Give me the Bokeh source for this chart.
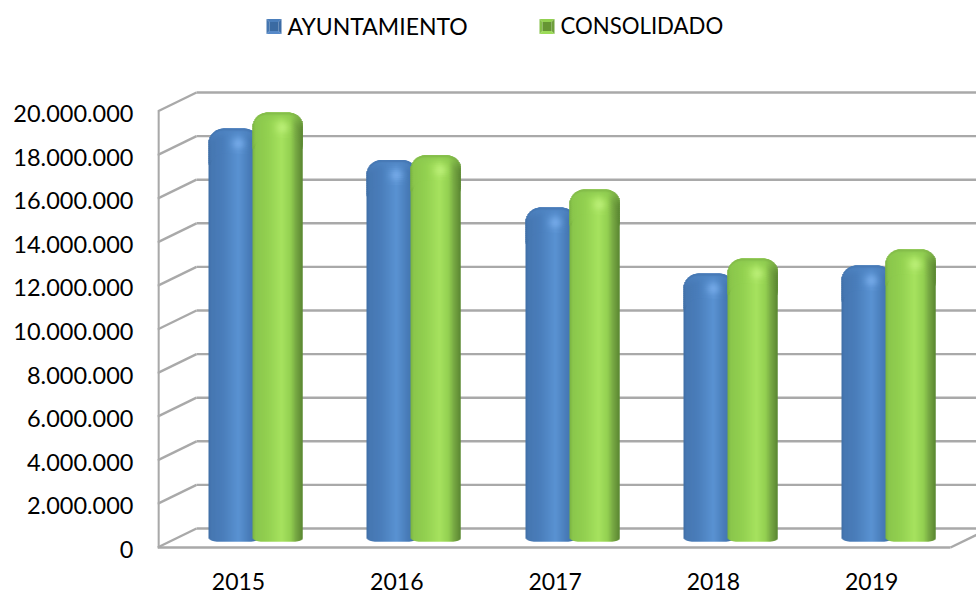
import math
from bokeh.plotting import figure
from bokeh.models import Range1d, LinearAxis, FixedTicker, ColumnDataSource
from bokeh.core.properties import value
from bokeh.embed import file_html
from bokeh.resources import INLINE

years = ["2015", "2016", "2017", "2018", "2019"]
ayuntamiento = [18940000, 17500000, 15320000, 12290000, 12660000]
consolidado = [19680000, 17720000, 16150000, 12980000, 13400000]
y_ticks = [0, 2000000, 4000000, 6000000, 8000000, 10000000, 12000000, 14000000, 16000000, 18000000, 20000000]
y_labels = ["0", "2.000.000", "4.000.000", "6.000.000", "8.000.000", "10.000.000", "12.000.000", "14.000.000", "16.000.000", "18.000.000", "20.000.000"]
series_names = ["AYUNTAMIENTO", "CONSOLIDADO"]

FONT = "Lato"
GRID = "#a9a9a9"
# layout, in window pixels
W, H = 976, 591
FL, FR, FT, FB = 157, 976, 0, 591      # plot frame
Y0, PXV = 547, 436 / 20000000          # front-plane zero and pixels per unit
X0, PXC = 238, 158.3                   # first category and pixels per category
DX, DY = 39, 19                        # wall depth
BAR_W, BAR_Y = 50, 541
BAR_OFF = [-5, 39]

def xd(px):
    return (px - X0) / PXC
def yd(px):
    return (Y0 - px) / PXV

p = figure(width=W, height=H, output_backend="svg", toolbar_location=None,
           x_range=Range1d(xd(FL), xd(FR)), y_range=Range1d(yd(FB), yd(FT)),
           x_axis_type=None, y_axis_type=None,
           min_border_left=FL, min_border_right=0, min_border_top=0, min_border_bottom=0)
p.outline_line_color = None
p.background_fill_color = "white"
p.border_fill_color = "white"
p.extra_y_ranges = {"labels": Range1d(yd(FB - 2), yd(FT - 2))}

# walls
dxd, dyd = DX / PXC, DY / PXV
xb0, xb1 = xd(FL), xd(FR + 60)
xfr = xd(950)
p.segment(x0=[xb0] * len(y_ticks), y0=y_ticks, x1=[xb0 + dxd] * len(y_ticks), y1=[t + dyd for t in y_ticks],
          line_color=GRID, line_width=2.4)
p.segment(x0=[xb0 + dxd] * len(y_ticks), y0=[t + dyd for t in y_ticks], x1=[xb1] * len(y_ticks), y1=[t + dyd for t in y_ticks],
          line_color=GRID, line_width=2.4)
p.segment(x0=[xfr], y0=[0], x1=[xfr + dxd], y1=[dyd], line_color=GRID, line_width=2.4)
p.segment(x0=[xd(FL + 1)], y0=[y_ticks[0]], x1=[xd(FL + 1)], y1=[y_ticks[-1]], line_color=GRID, line_width=2.4)

def hex2(c):
    return [int(c[i:i + 2], 16) for i in (1, 3, 5)]
def mix(a, b, t):
    return [a[i] + (b[i] - a[i]) * t for i in range(3)]
def tohex(c):
    return "#%02x%02x%02x" % tuple(max(0, min(255, round(v))) for v in c)
def ramp(stops, u):
    for (u0, c0), (u1, c1) in zip(stops, stops[1:]):
        if u <= u1:
            return mix(hex2(c0), hex2(c1), (u - u0) / (u1 - u0))
    return hex2(stops[-1][1])

STOPS = [
    [(0, "#3f6ea5"), (.05, "#4677b1"), (.3, "#4a7ebb"), (.6, "#5a92d2"), (.78, "#4b80bd"), (.92, "#4273ab"), (1, "#36608f")],
    [(0, "#78b040"), (.06, "#8ac64c"), (.3, "#92d050"), (.58, "#a6e25f"), (.76, "#93d051"), (.87, "#77a843"), (1, "#5b8632")],
]
HILITE = ["#78acea", "#bdf07a"]
TOPC = ["#4f84c2", "#8cc950"]
RIM = ["#3f6fa8", "#7aae43"]

def corner(dx, r, h):
    if dx >= r:
        return 0
    t = (r - dx) / r
    return h * (1 - math.sqrt(max(0, 1 - t * t)))

for s, vals in enumerate([ayuntamiento, consolidado]):
    l, r_, b, t, col = [], [], [], [], []
    cl, cr, cb, ct, cc_ = [], [], [], [], []
    for i, v in enumerate(vals):
        left = round(X0 + i * PXC + BAR_OFF[s] - BAR_W / 2)
        top = BAR_Y - v * PXV
        for c in range(BAR_W):
            u = (c + .5) / BAR_W
            edge = min(c + .5, BAR_W - c - .5)
            ytop = top + corner(edge, 15, 15)
            ybot = BAR_Y - corner(edge, 9, 4)
            base = ramp(STOPS[s], min(u, 1))
            x0, x1 = xd(left + c), xd(min(left + c + 2, left + BAR_W))
            l.append(x0); r_.append(x1); b.append(yd(ybot)); t.append(yd(ytop)); col.append(tohex(base))
            row = 0
            while row < 24:
                vv = row + 1
                cc = base
                if vv < 10:
                    cc = mix(cc, hex2(TOPC[s]), (1 - vv / 10) * (1 - abs(2 * u - 1) ** 4))
                if vv < 3:
                    cc = mix(cc, hex2(RIM[s]), .45)
                g = math.exp(-(((u - .6) / .13) ** 2 + ((vv - (top + 15 - ytop)) / 6.0) ** 2))
                cc = mix(cc, hex2(HILITE[s]), .8 * g)
                cl.append(x0); cr.append(x1); cb.append(yd(ytop + row + 3)); ct.append(yd(ytop + row)); cc_.append(tohex(cc))
                row += 2
    p.quad(left="l", right="r", bottom="b", top="t", fill_color="c", line_color=None,
           source=ColumnDataSource(dict(l=l, r=r_, b=b, t=t, c=col)))
    p.quad(left="l", right="r", bottom="b", top="t", fill_color="c", line_color=None,
           source=ColumnDataSource(dict(l=cl, r=cr, b=cb, t=ct, c=cc_)))

# axes
ya = LinearAxis(ticker=FixedTicker(ticks=y_ticks), y_range_name="labels")
ya.major_label_overrides = dict(zip(y_ticks, y_labels))
ya.axis_line_color = None
ya.major_tick_line_color = None
ya.minor_tick_line_color = None
ya.major_label_standoff = 18
ya.major_label_text_font = FONT
ya.major_label_text_font_size = "23.5px"
ya.major_label_text_color = "#000000"
p.add_layout(ya, "left")

xa = LinearAxis(ticker=FixedTicker(ticks=list(range(len(years)))), bounds=(xd(FL), xd(950)), fixed_location=0)
xa.major_label_overrides = {i: y for i, y in enumerate(years)}
xa.axis_line_color = GRID
xa.axis_line_width = 2.4
xa.major_tick_line_color = None
xa.minor_tick_line_color = None
xa.major_label_standoff = 19
xa.major_label_text_font = FONT
xa.major_label_text_font_size = "23px"
xa.major_label_text_color = "#000000"
p.add_layout(xa, "below")

# legend
LEG_X = [266, 539]
LEG_T = [287, 560]
LEG_SIZE = ["23px", "22.2px"]
LEG_COL = [
    ["#4a7ebb", "#4576b0", "#3c6ca6", "#5689c8", "#3a6aa2"],
    ["#92d050", "#84bf48", "#6f9f3c", "#9cdb58", "#659533"],
]
for k, name in enumerate(series_names):
    x0, x1, y0, y1 = LEG_X[k], LEG_X[k] + 15, 18.5, 33.5
    cx0, cx1, cy0, cy1 = x0 + 3, x1 - 3, y0 + 3, y1 - 3
    quads = [
        ([x0, x1, cx1, cx0], [y0, y0, cy0, cy0]),
        ([x0, cx0, cx0, x0], [y0, cy0, cy1, y1]),
        ([x1, x1, cx1, cx1], [y0, y1, cy1, cy0]),
        ([x0, cx0, cx1, x1], [y1, cy1, cy1, y1]),
        ([cx0, cx1, cx1, cx0], [cy0, cy0, cy1, cy1]),
    ]
    p.patches(xs=[[xd(a) for a in q[0]] for q in quads], ys=[[yd(a) for a in q[1]] for q in quads],
              fill_color=LEG_COL[k], line_color=None)
    p.text(x=[xd(LEG_T[k])], y=[yd(25)], text=[name], text_font=value(FONT), text_font_size=LEG_SIZE[k],
           text_align="left", text_baseline="middle", text_color="#000000")

open("out.html", "w").write(file_html(p, INLINE))
